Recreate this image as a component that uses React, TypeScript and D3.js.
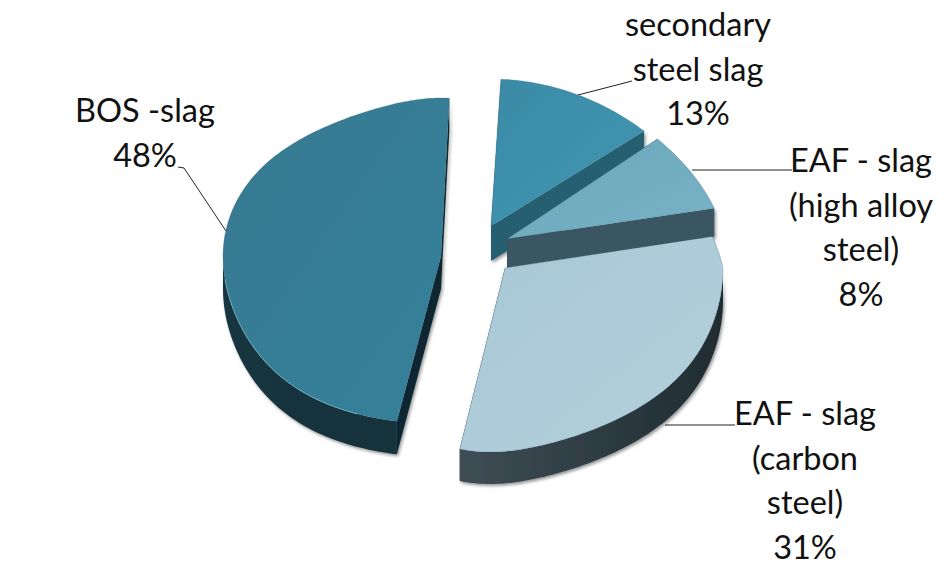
import React from "react";
import * as d3 from "d3";

const categories = ["secondary steel slag", "EAF - slag (high alloy steel)", "EAF - slag (carbon steel)", "BOS -slag"];
const shares = [13, 8, 31, 48];
const percentLabels = ["13%", "8%", "31%", "48%"];

const W = 950, H = 578;
const startDeg = 3;
type G = {
  ax: number; ay: number; rx: number; up: number; down: number; depth: number;
  ku: number; pu: number; kd: number; pd: number; shear: number;
};
const geometry: G[] = [
  { ax: 491, ay: 226, rx: 222, up: 147, down: 180, depth: 35, ku: 0.15, pu: 1, kd: 0.15, pd: 1, shear: 0 },
  { ax: 507, ay: 239, rx: 218, up: 155, down: 180, depth: 28.5, ku: 0.15, pu: 1, kd: 0.15, pd: 1, shear: 0 },
  { ax: 505, ay: 268, rx: 218, up: 160, down: 184, depth: 32, ku: 0.15, pu: 1, kd: -0.2, pd: 6, shear: 15 },
  { ax: 441, ay: 256, rx: 218, up: 158, down: 168, depth: 33, ku: 0.27, pu: 6, kd: 0.15, pd: 3, shear: 0 },
];
const topColors = [["#3b8aa6", "#4097b2"], ["#6aa6bb", "#78b2c6"], ["#a8c7d5", "#b3d0dc"], ["#377a90", "#35809b"]];
const wallColors = [["#2b6578", "#25586a"], ["#3f5c6a", "#38505c"], ["#3f4d55", "#1f2c31"], ["#16353f", "#12303b"]];
const radialColors = ["#285f72", "#3b5664", "#3c4a52", "#0e2730"];

const labelLines = [
  { lines: ["secondary", "steel slag", "13%"], x: 698, y: 36 },
  { lines: ["EAF - slag", "(high alloy", "steel)", "8%"], x: 861, y: 172 },
  { lines: ["EAF - slag", "(carbon", "steel)", "31%"], x: 805, y: 425 },
  { lines: ["BOS -slag", "48%"], x: 145, y: 122 },
];
const leaderLines = [
  [[578, 95], [632, 81]],
  [[692, 170], [792, 170]],
  [[665, 425], [735, 425]],
  [[226, 231], [184, 168], [178, 167]],
];

const line = d3.line<[number, number]>().x((d) => d[0]).y((d) => d[1]);
const rad = (d: number) => (d * Math.PI) / 180;

function rimPoint(g: G, t: number, dy = 0): [number, number] {
  const s = Math.sin(t), c = Math.cos(t);
  const ac = Math.abs(c);
  if (c > 0) {
    return [g.ax + g.rx * s * (1 - g.ku * Math.pow(ac, g.pu)), g.ay - c * g.up + dy];
  }
  const w = Math.pow(ac, g.pd);
  return [g.ax + g.rx * s * (1 + g.kd * w) - g.shear * w, g.ay + ac * g.down + dy];
}
function rim(g: G, a: number, b: number, dy = 0): [number, number][] {
  const n = Math.max(4, Math.ceil(Math.abs(b - a) / 0.02));
  return d3.range(n + 1).map((i) => rimPoint(g, a + ((b - a) * i) / n, dy));
}

export default function App() {
  const arcs = d3
    .pie<number>()
    .sort(null)
    .startAngle(rad(startDeg))
    .endAngle(rad(startDeg) + 2 * Math.PI)(shares);

  return (
    <svg width={W} height={H} style={{ position: "absolute", left: 0, top: 0, background: "#fff" }}>
      <defs>
        <filter id="soft" x="-10%" y="-10%" width="120%" height="120%">
          <feDropShadow dx="1.5" dy="2" stdDeviation="1.5" floodColor="#000" floodOpacity="0.4" />
        </filter>
        {shares.map((_, i) => (
          <React.Fragment key={i}>
            <linearGradient id={`top${i}`} x1="0" y1="0" x2="1" y2="1">
              <stop offset="0" stopColor={topColors[i][0]} />
              <stop offset="1" stopColor={topColors[i][1]} />
            </linearGradient>
            <linearGradient id={`wall${i}`} x1="0" y1="0" x2="1" y2="0">
              <stop offset="0" stopColor={wallColors[i][0]} />
              <stop offset="1" stopColor={wallColors[i][1]} />
            </linearGradient>
          </React.Fragment>
        ))}
      </defs>
      {leaderLines.map((pts, i) => (
        <path key={i} d={line(pts as [number, number][]) || ""} fill="none" stroke="#222" strokeWidth={1} />
      ))}
      {[3, 0, 1, 2].map((i) => {
        const a = arcs[i];
        const g = geometry[i];
        const apex: [number, number] = [g.ax, g.ay];
        const topEdge = rim(g, a.startAngle, a.endAngle);
        const first = topEdge[0];
        const last = topEdge[topEdge.length - 1];
        const dn = (p: [number, number]): [number, number] => [p[0], p[1] + g.depth];
        const lo = Math.max(a.startAngle, Math.PI / 2);
        const hi = Math.min(a.endAngle, (3 * Math.PI) / 2);
        const outer =
          hi > lo ? [...rim(g, lo, hi), ...rim(g, lo, hi, g.depth).reverse()] : null;
        return (
          <g key={i}>
            <title>{`${categories[i]} ${percentLabels[i]}`}</title>
            <g filter="url(#soft)">
              <path d={line([apex, last, dn(last), dn(apex)]) + "Z"} fill={radialColors[i]} />
              <path d={line([apex, first, dn(first), dn(apex)]) + "Z"} fill={radialColors[i]} />
              {outer && <path d={line(outer) + "Z"} fill={`url(#wall${i})`} />}
            </g>
            <path d={line([apex, ...topEdge]) + "Z"} fill={`url(#top${i})`} stroke="#2c5a6a" strokeOpacity={0.35} strokeWidth={0.7} />
            {i === 3 && (
              <path d={line(rim(g, rad(200), rad(262))) || ""} fill="none" stroke="#8fd0e6" strokeOpacity={0.6} strokeWidth={1} />
            )}
          </g>
        );
      })}
      {labelLines.map((l, i) => (
        <text key={i} fontFamily="Lato" fontSize={32.5} fill="#111" textAnchor="middle">
          {l.lines.map((t, j) => (
            <tspan key={j} x={l.x} y={l.y + j * 44.7}>{t}</tspan>
          ))}
        </text>
      ))}
    </svg>
  );
}
